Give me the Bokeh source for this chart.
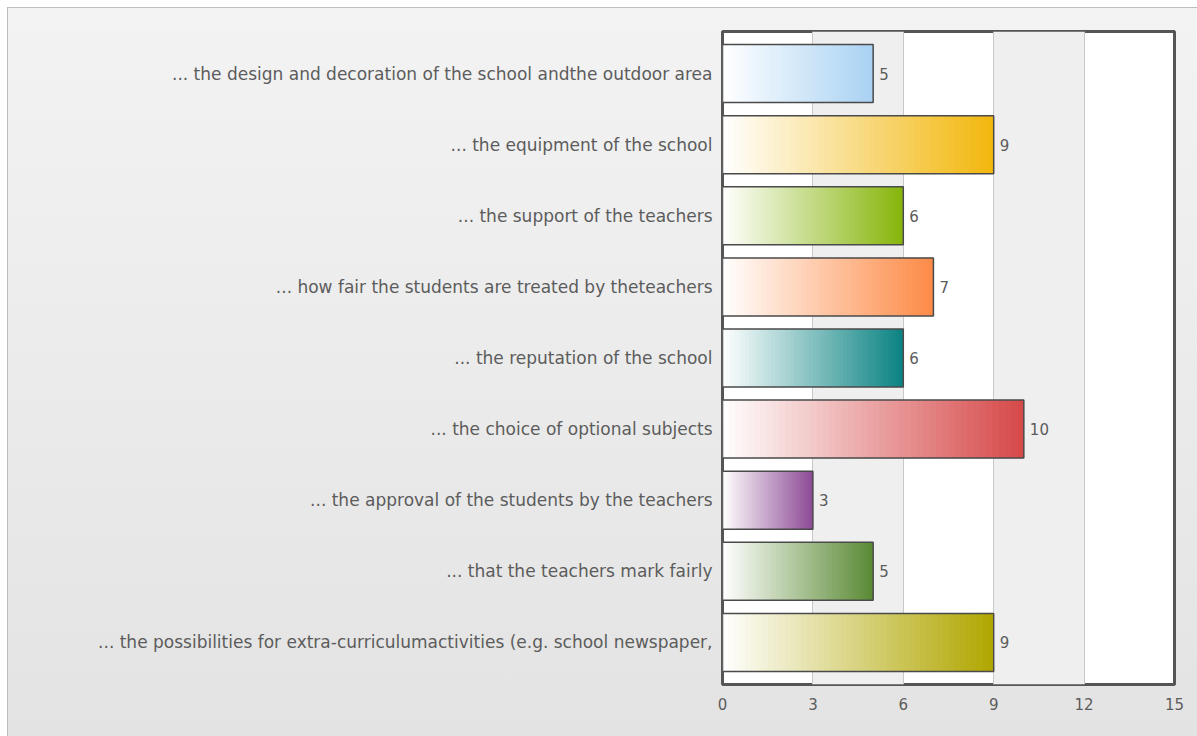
from bokeh.plotting import figure
from bokeh.models import FactorRange, Range1d, FixedTicker, ColumnDataSource
from bokeh.embed import file_html
from bokeh.resources import INLINE

categories = [
    "... the design and decoration of the school andthe outdoor area",
    "... the equipment of the school",
    "... the support of the teachers",
    "... how fair the students are treated by theteachers",
    "... the reputation of the school",
    "... the choice of optional subjects",
    "... the approval of the students by the teachers",
    "... that the teachers mark fairly",
    "... the possibilities for extra-curriculumactivities (e.g. school newspaper,",
]
values = [5, 9, 6, 7, 6, 10, 3, 5, 9]
colors = ["#a9d2f3", "#f2b70c", "#86b50a", "#fd8a46", "#0a8282",
          "#d64848", "#8c4a94", "#5a8a34", "#b0a600"]
x_ticks = [0, 3, 6, 9, 12, 15]

FONT = "DejaVu Sans"
TXT = "#5c5c5c"

p = figure(width=1197, height=736, output_backend="svg", toolbar_location=None,
           y_range=FactorRange(factors=list(reversed(categories)), range_padding=0.0204),
           x_range=Range1d(0, 15),
           min_border_left=722, min_border_right=23, min_border_top=31, min_border_bottom=52)

p.border_fill_color = None
p.styles = {"background": (
    "linear-gradient(#bdbdbd,#bdbdbd) 7px 7px / 1px 100% no-repeat, "
    "linear-gradient(#bdbdbd,#bdbdbd) 7px 7px / 100% 1px no-repeat, "
    "linear-gradient(#f3f3f3,#e3e3e3) 8px 8px / 100% 100% no-repeat, white")}
p.background_fill_color = "white"
p.outline_line_color = "#555555"
p.outline_line_width = 3

p.xaxis.ticker = FixedTicker(ticks=x_ticks)
p.xgrid.ticker = FixedTicker(ticks=x_ticks)
p.xgrid.grid_line_color = "#c8c8c8"
p.xgrid.grid_line_width = 1
p.xgrid.band_fill_color = "#efefef"
p.xgrid.band_fill_alpha = 1
p.ygrid.grid_line_color = None

for ax in (p.xaxis, p.yaxis):
    ax.axis_line_color = None
    ax.major_tick_line_color = None
    ax.minor_tick_line_color = None
    ax.major_label_text_font = FONT
    ax.major_label_text_color = TXT
p.yaxis.major_label_text_font_size = "17px"
p.xaxis.major_label_text_font_size = "15px"
p.yaxis.major_label_standoff = 4
p.xaxis.major_label_standoff = 7


def mix(c, t):
    r, g, b = int(c[1:3], 16), int(c[3:5], 16), int(c[5:7], 16)
    return "#%02x%02x%02x" % (round(255 + (r - 255) * t), round(255 + (g - 255) * t), round(255 + (b - 255) * t))


N = 48
seg = dict(y=[], left=[], right=[], color=[])
for cat, v, c in zip(categories, values, colors):
    for i in range(N):
        seg["y"].append(cat)
        seg["left"].append(v * i / N)
        seg["right"].append(min(v, v * (i + 1.6) / N))
        seg["color"].append(mix(c, (i + 0.5) / N))

BH = 0.816
p.hbar(y="y", left="left", right="right", height=BH, fill_color="color",
       line_color=None, source=ColumnDataSource(seg))

src = ColumnDataSource(dict(y=categories, v=values, lbl=[str(v) for v in values]))
p.hbar(y="y", left=0, right="v", height=BH, fill_color=None,
       line_color="#4a4a4a", line_width=1.5, source=src)
p.text(x="v", y="y", text="lbl", source=src, x_offset=6, text_align="left",
       text_baseline="middle", text_font_size="15px", text_color=TXT,
       text_font={"value": FONT})

open("out.html", "w").write(file_html(p, INLINE))
